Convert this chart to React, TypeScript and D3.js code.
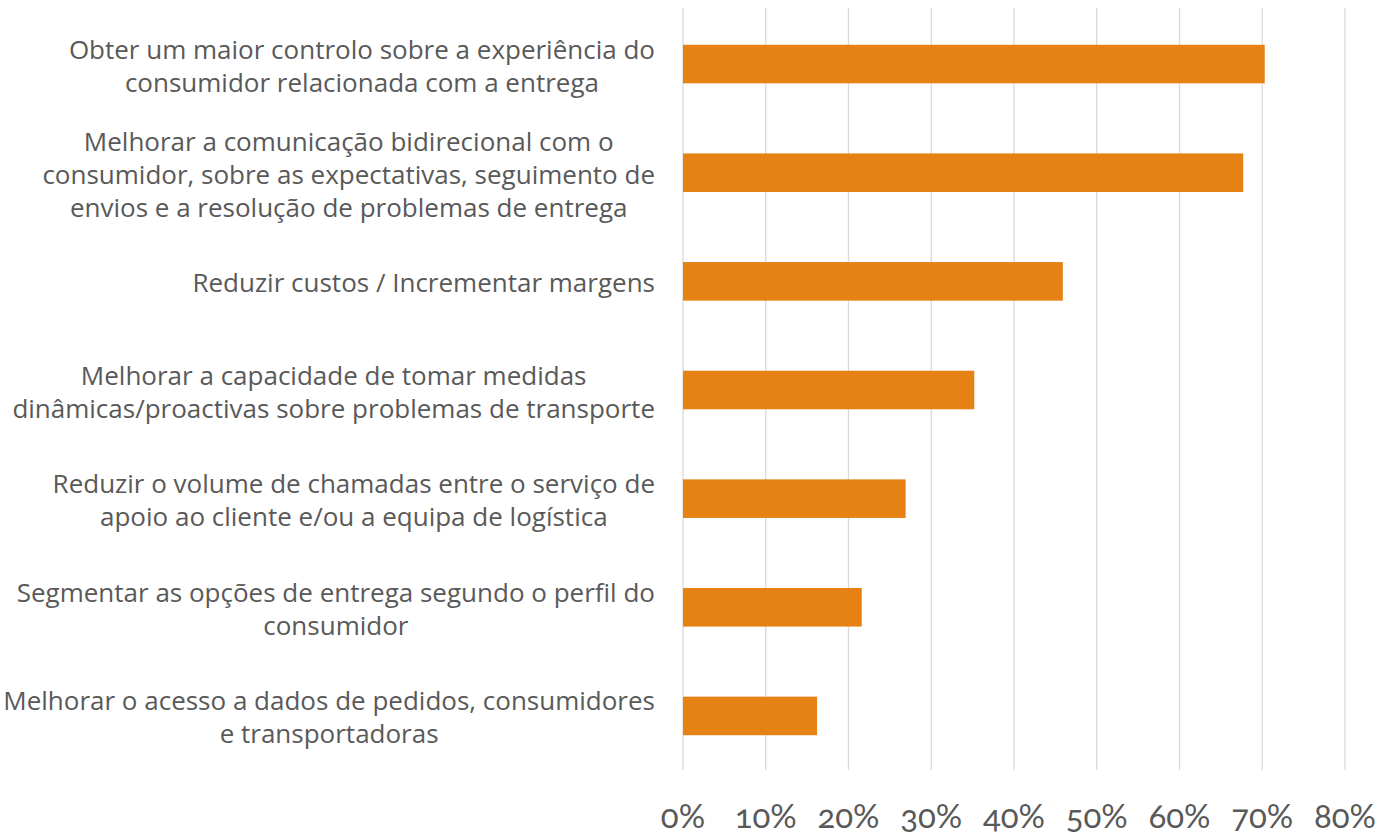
import React, { useRef, useEffect } from 'react';
import * as d3 from 'd3';

// categorias (de cima para baixo)
const categories: string[][] = [
  ['Obter um maior controlo sobre a experiência do', 'consumidor relacionada com a entrega'],
  ['Melhorar a comunicação bidirecional com o', 'consumidor, sobre as expectativas, seguimento de', 'envios e a resolução de problemas de entrega'],
  ['Reduzir custos / Incrementar margens'],
  ['Melhorar a capacidade de tomar medidas', 'dinâmicas/proactivas sobre problemas de transporte'],
  ['Reduzir o volume de chamadas entre o serviço de', 'apoio ao cliente e/ou a equipa de logística'],
  ['Segmentar as opções de entrega segundo o perfil do', 'consumidor'],
  ['Melhorar o acesso a dados de pedidos, consumidores', 'e transportadoras'],
];
const values = [0.703, 0.677, 0.459, 0.352, 0.269, 0.216, 0.162];
const ticks = [0, 0.1, 0.2, 0.3, 0.4, 0.5, 0.6, 0.7, 0.8];

const W = 1386;
const H = 836;
const TEXT = '#595959';

export default function App() {
  const svgRef = useRef<SVGSVGElement>(null);

  useEffect(() => {
    const svg = d3.select(svgRef.current);
    svg.selectAll('*').remove();

    const margin = { top: 10, right: 41, bottom: 66, left: 683 };

    const x = d3.scaleLinear().domain([0, 0.8]).range([margin.left, W - margin.right]);
    const y = d3
      .scaleBand<number>()
      .domain(d3.range(categories.length))
      .range([margin.top, H - margin.bottom])
      .paddingInner(0.645)
      .paddingOuter(0.32);

    // grelha
    svg
      .append('g')
      .selectAll('line')
      .data(ticks)
      .join('line')
      .attr('x1', d => x(d))
      .attr('x2', d => x(d))
      .attr('y1', margin.top - 2)
      .attr('y2', H - margin.bottom)
      .attr('stroke', '#d9d9d9')
      .attr('stroke-width', 1.3);

    // barras
    svg
      .append('g')
      .selectAll('rect')
      .data(values)
      .join('rect')
      .attr('x', x(0))
      .attr('y', (_, i) => y(i)!)
      .attr('width', d => x(d) - x(0))
      .attr('height', y.bandwidth())
      .attr('fill', '#e58213');

    // eixo X
    svg
      .append('g')
      .selectAll('text')
      .data(ticks)
      .join('text')
      .attr('x', d => x(d))
      .attr('y', 828)
      .attr('text-anchor', 'middle')
      .attr('fill', TEXT)
      .style('font-family', 'Lato, "Open Sans", sans-serif')
      .style('font-size', '33px')
      .style('font-variant-numeric', 'oldstyle-nums')
      .text(d => d3.format('.0%')(d));

    // rótulos das categorias, linhas centradas, bloco alinhado à direita
    const lineH = 33;
    const right = 655;
    categories.forEach((lines, i) => {
      const g = svg.append('g');
      const cy = y(i)! + y.bandwidth() / 2;
      const t = g
        .selectAll('text')
        .data(lines)
        .join('text')
        .attr('y', (_, j) => cy + (j - (lines.length - 1) / 2) * lineH + 11)
        .attr('fill', TEXT)
        .attr('text-anchor', 'middle')
        .style('font-family', '"Open Sans", sans-serif')
        .style('font-size', '26px')
        .text(d => d);
      let maxW = 0;
      t.each(function () {
        maxW = Math.max(maxW, (this as SVGTextElement).getComputedTextLength());
      });
      t.attr('x', right - maxW / 2);
    });
  }, []);

  return (
    <svg
      ref={svgRef}
      width={W}
      height={H}
      style={{ display: 'block', position: 'absolute', left: 0, top: 0, background: '#fff' }}
    />
  );
}
